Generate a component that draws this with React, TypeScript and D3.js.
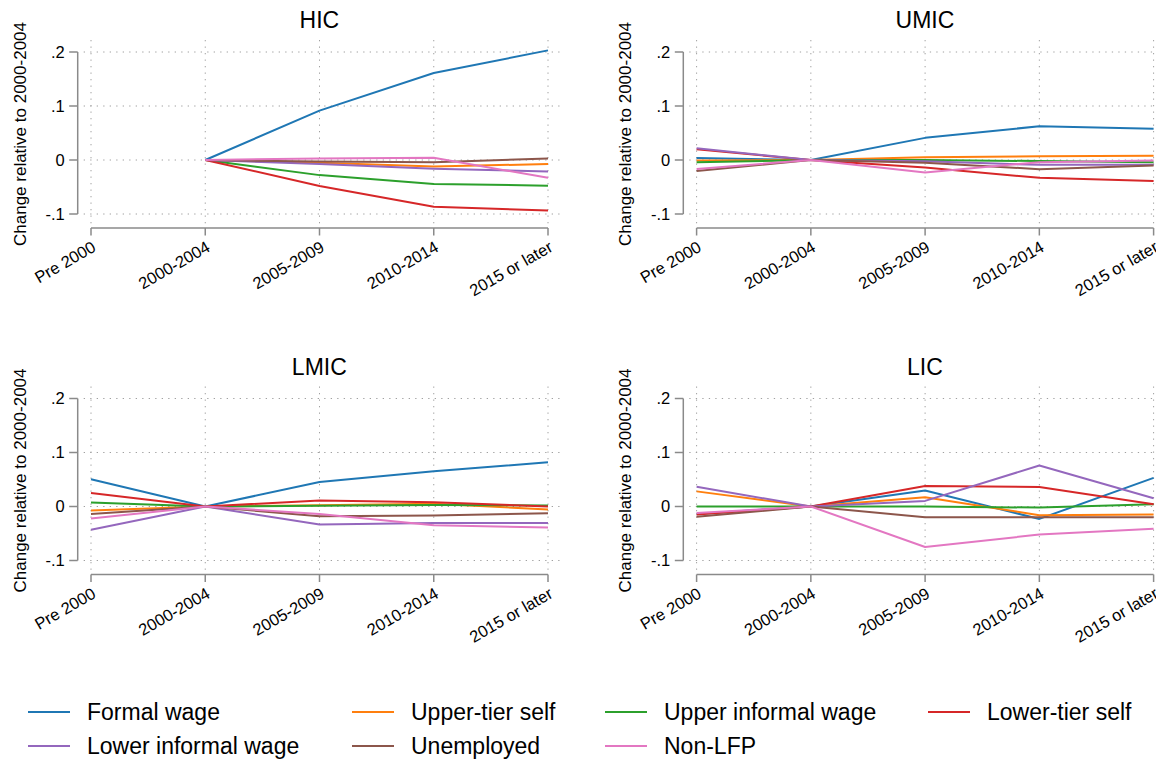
import React, { useEffect, useRef } from "react";
import * as d3 from "d3";

const categories = ["Pre 2000", "2000-2004", "2005-2009", "2010-2014", "2015 or later"];
const seriesNames = [
  "Formal wage",
  "Upper-tier self",
  "Upper informal wage",
  "Lower-tier self",
  "Lower informal wage",
  "Unemployed",
  "Non-LFP",
];
const seriesColors = ["#1f77b4", "#ff7f0e", "#2ca02c", "#d62728", "#9467bd", "#8c564b", "#e377c2"];
const panelTitles = ["HIC", "UMIC", "LMIC", "LIC"];
const yTicks = [-0.1, 0, 0.1, 0.2];
const yTickLabels = ["-.1", "0", ".1", ".2"];

// one row per series, in seriesNames order; null = not estimated
const hic = [
  [null, 0, 0.0915, 0.161, 0.203],
  [null, 0, -0.005, -0.012, -0.0075],
  [null, 0, -0.028, -0.0445, -0.0475],
  [null, 0, -0.048, -0.0866, -0.0935],
  [null, 0, -0.0075, -0.016, -0.0215],
  [null, 0, -0.003, -0.004, 0.003],
  [null, 0, 0.003, 0.004, -0.033],
];
const umic = [
  [0.0037, 0, 0.041, 0.0625, 0.058],
  [-0.001, 0, 0.005, 0.0068, 0.008],
  [-0.004, 0, 0, -0.002, -0.004],
  [0.02, 0, -0.014, -0.033, -0.039],
  [0.0217, 0, -0.0025, -0.009, -0.009],
  [-0.0204, 0, -0.005, -0.017, -0.01],
  [-0.0167, 0, -0.023, -0.004, -0.001],
];
const lmic = [
  [0.0503, 0, 0.0453, 0.0652, 0.082],
  [-0.0075, 0, 0.0025, 0.005, -0.0056],
  [0.0075, 0, 0.0012, 0.003, 0.002],
  [0.0248, 0, 0.0112, 0.008, 0],
  [-0.0429, 0, -0.0335, -0.0304, -0.0304],
  [-0.0137, 0, -0.018, -0.0168, -0.0124],
  [-0.0224, 0, -0.0137, -0.0348, -0.039],
];
const lic = [
  [-0.014, 0, 0.0296, -0.023, 0.053],
  [0.028, 0, 0.017, -0.016, -0.015],
  [0, 0, 0, -0.002, 0.004],
  [-0.015, 0, 0.038, 0.036, 0.004],
  [0.0365, 0, 0.0104, 0.076, 0.0154],
  [-0.019, 0, -0.02, -0.02, -0.02],
  [-0.012, 0, -0.075, -0.052, -0.041],
];
const panelData = [hic, umic, lmic, lic];

const W = 1156;
const H = 759;
const FONT = "'Liberation Sans', Arial, Helvetica, sans-serif";

export default function App() {
  const ref = useRef<SVGSVGElement>(null);

  useEffect(() => {
    const svg = d3.select(ref.current);
    svg.selectAll("*").remove();

    const colX = [77.7, 683.3];
    const rowY = [0, 346.5];

    panelData.forEach((data, p) => {
      const axisX = colX[p % 2];
      const dy = rowY[Math.floor(p / 2)];
      const x0 = axisX + 13.3;
      const x1 = x0 + 457;
      const yTop = 52 + dy;
      const yBot = 214 + dy;
      const xAxisY = 228 + dy;
      const gridTop = 40 + dy;

      const x = d3.scalePoint<string>().domain(categories).range([x0, x1]);
      const y = d3.scaleLinear().domain([-0.1, 0.2]).range([yBot, yTop]);

      const g = svg.append("g");

      // grid
      g.selectAll(".hg")
        .data(yTicks)
        .join("line")
        .attr("x1", axisX + 6)
        .attr("x2", x1 + 13)
        .attr("y1", (d) => y(d))
        .attr("y2", (d) => y(d))
        .attr("stroke", "#a0a0a0")
        .attr("stroke-width", 1)
        .attr("stroke-dasharray", "1.3,5.2");
      g.selectAll(".vg")
        .data(categories)
        .join("line")
        .attr("x1", (d) => x(d)!)
        .attr("x2", (d) => x(d)!)
        .attr("y1", gridTop)
        .attr("y2", xAxisY)
        .attr("stroke", "#a0a0a0")
        .attr("stroke-width", 1)
        .attr("stroke-dasharray", "1.3,5.2");

      // y axis
      g.append("line")
        .attr("x1", axisX)
        .attr("x2", axisX)
        .attr("y1", y(0.2))
        .attr("y2", y(-0.1))
        .attr("stroke", "#8a8a8a")
        .attr("stroke-width", 1.5);
      yTicks.forEach((t, i) => {
        g.append("line")
          .attr("x1", axisX - 8.5)
          .attr("x2", axisX)
          .attr("y1", y(t))
          .attr("y2", y(t))
          .attr("stroke", "#8a8a8a")
          .attr("stroke-width", 1.5);
        g.append("text")
          .attr("x", axisX - 13)
          .attr("y", y(t))
          .attr("dy", "0.36em")
          .attr("text-anchor", "end")
          .attr("font-family", FONT)
          .attr("font-size", 16.5)
          .attr("fill", "#000")
          .text(yTickLabels[i]);
      });

      // x axis
      g.append("line")
        .attr("x1", x0)
        .attr("x2", x1)
        .attr("y1", xAxisY)
        .attr("y2", xAxisY)
        .attr("stroke", "#8a8a8a")
        .attr("stroke-width", 1.5);
      categories.forEach((c) => {
        g.append("line")
          .attr("x1", x(c)!)
          .attr("x2", x(c)!)
          .attr("y1", xAxisY)
          .attr("y2", xAxisY + 7.5)
          .attr("stroke", "#8a8a8a")
          .attr("stroke-width", 1.5);
        g.append("text")
          .attr("transform", `translate(${x(c)!},${xAxisY + 12}) rotate(-30)`)
          .attr("dy", "0.72em")
          .attr("text-anchor", "end")
          .attr("font-family", FONT)
          .attr("font-size", 16.5)
          .attr("fill", "#000")
          .text(c);
      });

      // y title
      g.append("text")
        .attr("transform", `translate(${axisX - 58},${(gridTop + xAxisY) / 2}) rotate(-90)`)
        .attr("dy", "0.36em")
        .attr("text-anchor", "middle")
        .attr("font-family", FONT)
        .attr("font-size", 17)
        .attr("fill", "#000")
        .text("Change relative to 2000-2004");

      // panel title
      g.append("text")
        .attr("x", (axisX + x1 + 13) / 2)
        .attr("y", 28 + dy)
        .attr("text-anchor", "middle")
        .attr("font-family", FONT)
        .attr("font-size", 23)
        .attr("fill", "#000")
        .text(panelTitles[p]);

      // series lines
      const line = d3
        .line<number | null>()
        .defined((d) => d !== null)
        .x((_, i) => x(categories[i])!)
        .y((d) => y(d as number));
      data.forEach((vals, s) => {
        g.append("path")
          .attr("d", line(vals))
          .attr("fill", "none")
          .attr("stroke", seriesColors[s])
          .attr("stroke-width", 2)
          .attr("stroke-linejoin", "round");
      });
    });

    // legend
    const legCols = [28, 352, 605, 928];
    const legRows = [712, 746];
    const leg = svg.append("g");
    seriesNames.forEach((name, i) => {
      const lx = legCols[i % 4];
      const ly = legRows[Math.floor(i / 4)];
      leg.append("line")
        .attr("x1", lx)
        .attr("x2", lx + 42)
        .attr("y1", ly)
        .attr("y2", ly)
        .attr("stroke", seriesColors[i])
        .attr("stroke-width", 2);
      leg.append("text")
        .attr("x", lx + 59)
        .attr("y", ly)
        .attr("dy", "0.36em")
        .attr("font-family", FONT)
        .attr("font-size", 23)
        .attr("fill", "#000")
        .text(name);
    });
  }, []);

  return (
    <svg
      ref={ref}
      width={W}
      height={H}
      style={{ position: "absolute", left: 0, top: 0, background: "#fff" }}
    />
  );
}
